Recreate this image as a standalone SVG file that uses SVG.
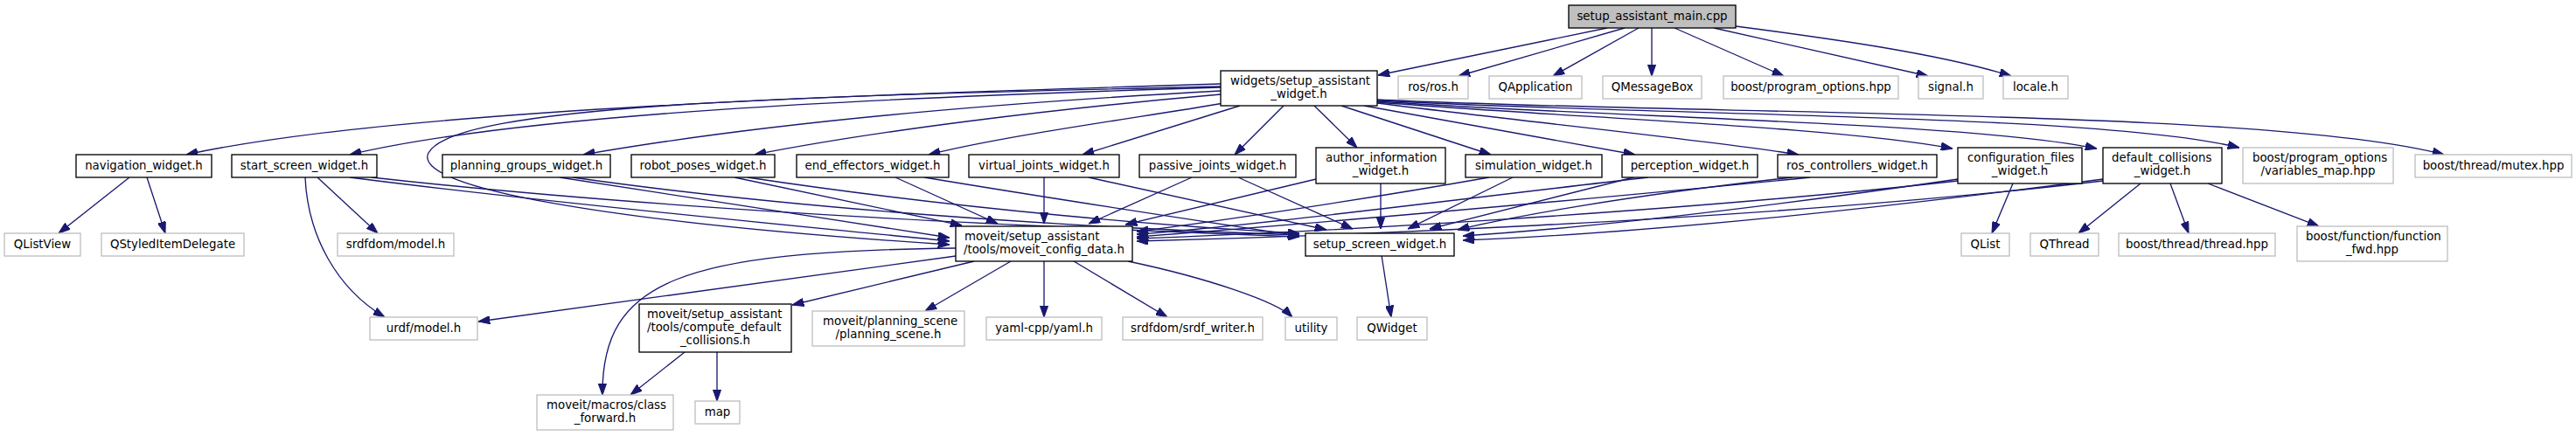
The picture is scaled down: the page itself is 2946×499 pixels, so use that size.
<svg xmlns="http://www.w3.org/2000/svg" width="2946" height="499" viewBox="0 0 2946 499">
<style>
.node rect{fill:#fff;stroke:#000;stroke-width:1.33}
.node.ext rect{stroke:#bfbfbf}
.node.main rect{fill:#bfbfbf;stroke:#000}
text{font-family:"DejaVu Sans",sans-serif;font-size:13.33px;fill:#000}
.c{text-anchor:middle}
.s{text-anchor:start}
#edges path{fill:none;stroke:#191970;stroke-width:1.33;marker-end:url(#arr)}
</style>
<defs>
<marker id="arr" viewBox="0 0 10 7" refX="10" refY="3.5" markerWidth="13.3" markerHeight="9.3" markerUnits="userSpaceOnUse" orient="auto">
<path d="M0,0 L10,3.5 L0,7 Z" fill="#191970" stroke="#191970" stroke-width="0.8"/>
</marker>
</defs>
<rect width="2946" height="499" fill="#fff"/>
<g id="edges">
<path d="M1838,32 L1576,86"/>
<path d="M1858,32 L1668,87"/>
<path d="M1874,32 L1776,87"/>
<path d="M1889,32 L1889,87"/>
<path d="M1915,32 L2040,87"/>
<path d="M1960,32 L2205,87"/>
<path d="M1985,30 C2100,45 2220,62 2300,87"/>
<path d="M1396,96 C1000,108 450,125 213,177"/>
<path d="M1396,100 C1000,112 600,130 400,177"/>
<path d="M1396,104 C1100,120 850,145 667,177"/>
<path d="M1396,108 C1200,125 1000,150 863,177"/>
<path d="M1400,118 C1300,135 1150,155 1062,177"/>
<path d="M1418,121 L1238,177"/>
<path d="M1468,121 L1412,177"/>
<path d="M1503,121 L1552,169"/>
<path d="M1534,121 L1705,177"/>
<path d="M1560,121 L1870,177"/>
<path d="M1575,118 C1750,140 1950,160 2057,177"/>
<path d="M1575,117 C1800,135 2100,145 2233,170"/>
<path d="M1575,116 C1850,135 2250,140 2398,170"/>
<path d="M1575,115 C1900,133 2400,130 2561,169"/>
<path d="M1575,114 C1950,132 2600,125 2795,177"/>
<path d="M1396,99 C900,110 520,120 490,175 C470,215 700,255 1086,280"/>
<path d="M148,203 L67,267"/>
<path d="M168,203 L189,267"/>
<path d="M363,203 L432,267"/>
<path d="M349,203 C352,270 385,330 440,363"/>
<path d="M400,203 C650,235 950,262 1086,276"/>
<path d="M425,203 C800,245 1250,262 1486,271"/>
<path d="M640,203 C850,235 1000,260 1086,272"/>
<path d="M655,203 C950,245 1300,263 1486,269"/>
<path d="M840,203 L1100,258"/>
<path d="M855,203 C1100,240 1350,260 1486,267"/>
<path d="M1024,203 L1141,256"/>
<path d="M1057,203 C1250,235 1420,260 1486,270"/>
<path d="M1194,203 L1194,256"/>
<path d="M1245,203 L1517,263"/>
<path d="M1363,203 L1245,256"/>
<path d="M1416,203 L1547,262"/>
<path d="M1505,205 L1287,257"/>
<path d="M1579,210 L1579,262"/>
<path d="M1703,203 C1550,230 1380,255 1300,265"/>
<path d="M1730,203 L1610,262"/>
<path d="M1885,203 C1650,230 1420,260 1300,268"/>
<path d="M1868,203 L1635,262"/>
<path d="M2070,203 C1800,230 1450,260 1300,271"/>
<path d="M2050,203 C1850,225 1720,250 1667,263"/>
<path d="M2239,207 C1900,245 1450,268 1300,273"/>
<path d="M2239,205 C2000,240 1800,262 1673,270"/>
<path d="M2302,210 L2278,267"/>
<path d="M2405,207 C2000,255 1450,272 1300,276"/>
<path d="M2405,205 C2100,245 1850,268 1673,275"/>
<path d="M2448,210 L2377,267"/>
<path d="M2482,210 L2503,267"/>
<path d="M2525,210 L2652,259"/>
<path d="M1093,293 L547,368"/>
<path d="M1114,299 L906,349"/>
<path d="M1093,284 C780,288 688,320 689,452"/>
<path d="M1156,299 L1058,356"/>
<path d="M1194,299 L1194,363"/>
<path d="M1228,299 L1335,363"/>
<path d="M1290,299 C1380,318 1460,345 1478,363"/>
<path d="M783,403 L721,452"/>
<path d="M820,403 L820,459"/>
<path d="M1580,292 L1591,363"/>
</g>
<g id="n-main" class="node main"><rect x="1794" y="6" width="191" height="26"/><text class="c" x="1889.5" y="23">setup_assistant_main.cpp</text></g>
<g id="n-saw" class="node"><rect x="1396" y="81" width="179" height="40"/><text class="s" x="1407" y="97">widgets/setup_assistant</text><text class="c" x="1485.5" y="112">_widget.h</text></g>
<g id="n-ros" class="node ext"><rect x="1599" y="87" width="80" height="26"/><text class="c" x="1639" y="104">ros/ros.h</text></g>
<g id="n-qapp" class="node ext"><rect x="1703" y="87" width="106" height="26"/><text class="c" x="1756" y="104">QApplication</text></g>
<g id="n-qmsg" class="node ext"><rect x="1833" y="87" width="113" height="26"/><text class="c" x="1889.5" y="104">QMessageBox</text></g>
<g id="n-bpo" class="node ext"><rect x="1971" y="87" width="200" height="26"/><text class="c" x="2071" y="104">boost/program_options.hpp</text></g>
<g id="n-sig" class="node ext"><rect x="2194" y="87" width="74" height="26"/><text class="c" x="2231" y="104">signal.h</text></g>
<g id="n-loc" class="node ext"><rect x="2291" y="87" width="74" height="26"/><text class="c" x="2328" y="104">locale.h</text></g>
<g id="n-nav" class="node"><rect x="87" y="177" width="155" height="26"/><text class="c" x="164.5" y="194">navigation_widget.h</text></g>
<g id="n-start" class="node"><rect x="265" y="177" width="166" height="26"/><text class="c" x="348" y="194">start_screen_widget.h</text></g>
<g id="n-pg" class="node"><rect x="506" y="177" width="192" height="26"/><text class="c" x="602" y="194">planning_groups_widget.h</text></g>
<g id="n-rp" class="node"><rect x="722" y="177" width="164" height="26"/><text class="c" x="804" y="194">robot_poses_widget.h</text></g>
<g id="n-ee" class="node"><rect x="911" y="177" width="174" height="26"/><text class="c" x="998" y="194">end_effectors_widget.h</text></g>
<g id="n-vj" class="node"><rect x="1108" y="177" width="172" height="26"/><text class="c" x="1194" y="194">virtual_joints_widget.h</text></g>
<g id="n-pj" class="node"><rect x="1303" y="177" width="179" height="26"/><text class="c" x="1392.5" y="194">passive_joints_widget.h</text></g>
<g id="n-ai" class="node"><rect x="1505" y="169" width="148" height="41"/><text class="s" x="1516" y="185">author_information</text><text class="c" x="1579" y="200">_widget.h</text></g>
<g id="n-sim" class="node"><rect x="1676" y="177" width="156" height="26"/><text class="c" x="1754" y="194">simulation_widget.h</text></g>
<g id="n-per" class="node"><rect x="1855" y="177" width="155" height="26"/><text class="c" x="1932.5" y="194">perception_widget.h</text></g>
<g id="n-rc" class="node"><rect x="2033" y="177" width="182" height="26"/><text class="c" x="2124" y="194">ros_controllers_widget.h</text></g>
<g id="n-cf" class="node"><rect x="2239" y="169" width="142" height="41"/><text class="s" x="2250" y="185">configuration_files</text><text class="c" x="2310" y="200">_widget.h</text></g>
<g id="n-dc" class="node"><rect x="2405" y="169" width="136" height="41"/><text class="s" x="2415" y="185">default_collisions</text><text class="c" x="2473" y="200">_widget.h</text></g>
<g id="n-vm" class="node ext"><rect x="2565" y="169" width="172" height="41"/><text class="s" x="2576" y="185">boost/program_options</text><text class="c" x="2651" y="200">/variables_map.hpp</text></g>
<g id="n-mtx" class="node ext"><rect x="2762" y="177" width="179" height="26"/><text class="c" x="2851.5" y="194">boost/thread/mutex.hpp</text></g>
<g id="n-qlv" class="node ext"><rect x="5" y="267" width="87" height="26"/><text class="c" x="48.5" y="284">QListView</text></g>
<g id="n-qsid" class="node ext"><rect x="116" y="267" width="163" height="26"/><text class="c" x="197.5" y="284">QStyledItemDelegate</text></g>
<g id="n-srdfm" class="node ext"><rect x="386" y="267" width="133" height="26"/><text class="c" x="452.5" y="284">srdfdom/model.h</text></g>
<g id="n-mcd" class="node"><rect x="1093" y="259" width="202" height="40"/><text class="s" x="1103" y="275">moveit/setup_assistant</text><text class="c" x="1194" y="290">/tools/moveit_config_data.h</text></g>
<g id="n-ssw" class="node"><rect x="1493" y="267" width="170" height="26"/><text class="c" x="1578" y="284">setup_screen_widget.h</text></g>
<g id="n-qlist" class="node ext"><rect x="2243" y="267" width="55" height="26"/><text class="c" x="2270.5" y="284">QList</text></g>
<g id="n-qth" class="node ext"><rect x="2322" y="267" width="78" height="26"/><text class="c" x="2361" y="284">QThread</text></g>
<g id="n-bth" class="node ext"><rect x="2423" y="267" width="179" height="26"/><text class="c" x="2512.5" y="284">boost/thread/thread.hpp</text></g>
<g id="n-bff" class="node ext"><rect x="2627" y="259" width="172" height="40"/><text class="s" x="2637" y="275">boost/function/function</text><text class="c" x="2713" y="290">_fwd.hpp</text></g>
<g id="n-urdf" class="node ext"><rect x="423" y="363" width="123" height="26"/><text class="c" x="484.5" y="380">urdf/model.h</text></g>
<g id="n-cdc" class="node"><rect x="731" y="348" width="174" height="55"/><text class="s" x="740" y="364">moveit/setup_assistant</text><text class="s" x="740" y="379">/tools/compute_default</text><text class="c" x="818" y="394">_collisions.h</text></g>
<g id="n-ps" class="node ext"><rect x="929" y="356" width="174" height="40"/><text class="s" x="941" y="372">moveit/planning_scene</text><text class="c" x="1016" y="387">/planning_scene.h</text></g>
<g id="n-yaml" class="node ext"><rect x="1128" y="363" width="132" height="26"/><text class="c" x="1194" y="380">yaml-cpp/yaml.h</text></g>
<g id="n-sw" class="node ext"><rect x="1284" y="363" width="160" height="26"/><text class="c" x="1364" y="380">srdfdom/srdf_writer.h</text></g>
<g id="n-util" class="node ext"><rect x="1470" y="363" width="59" height="26"/><text class="c" x="1499.5" y="380">utility</text></g>
<g id="n-qw" class="node ext"><rect x="1552" y="363" width="80" height="26"/><text class="c" x="1592" y="380">QWidget</text></g>
<g id="n-cfw" class="node ext"><rect x="614" y="452" width="156" height="40"/><text class="s" x="625" y="468">moveit/macros/class</text><text class="c" x="692" y="483">_forward.h</text></g>
<g id="n-map" class="node ext"><rect x="795" y="459" width="51" height="26"/><text class="c" x="820.5" y="476">map</text></g>
</svg>
